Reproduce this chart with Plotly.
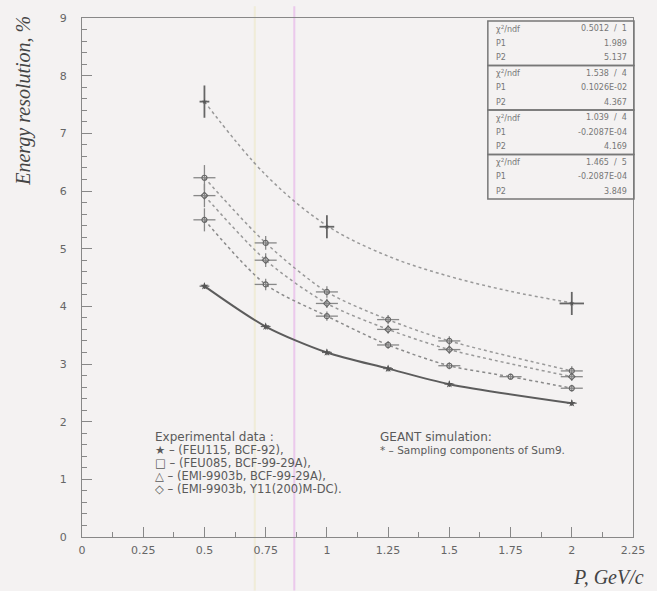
import plotly.graph_objects as go

# ---------------- data ----------------
x_geant = [0.5, 1.0, 2.0]
y_geant = [7.55, 5.38, 4.05]
ey_geant = [0.28, 0.2, 0.2]
ex_geant = [0.02, 0.03, 0.05]
# top smooth fit curve
x_geant_curve = [0.5, 0.75, 1.0, 1.25, 1.5, 1.75, 2.0]
y_geant_curve = [7.55, 6.28, 5.4, 4.87, 4.52, 4.26, 4.06]

x_star = [0.5, 0.75, 1.0, 1.25, 1.5, 2.0]
y_star = [4.35, 3.65, 3.2, 2.92, 2.65, 2.32]

x_sq = [0.5, 0.75, 1.0, 1.25, 1.5, 2.0]
y_sq = [6.23, 5.1, 4.25, 3.77, 3.4, 2.88]
ey_sq = [0.22, 0.12, 0.1, 0.08, 0.08, 0.08]

x_tri = [0.5, 0.75, 1.0, 1.25, 1.5, 2.0]
y_tri = [5.92, 4.8, 4.05, 3.6, 3.25, 2.78]
ey_tri = [0.2, 0.12, 0.08, 0.07, 0.07, 0.07]

x_dia = [0.5, 0.75, 1.0, 1.25, 1.5, 1.75, 2.0]
y_dia = [5.5, 4.38, 3.83, 3.33, 2.97, 2.78, 2.58]
ey_dia = [0.2, 0.1, 0.08, 0.07, 0.06, 0.05, 0.06]

x_ticks = [0, 0.25, 0.5, 0.75, 1, 1.25, 1.5, 1.75, 2, 2.25]
x_ticktext = ["0", "0.25", "0.5", "0.75", "1", "1.25", "1.5", "1.75", "2", "2.25"]
y_ticks = [0, 1, 2, 3, 4, 5, 6, 7, 8, 9]

fit_chi = ["0.5012  /  1", "1.538  /  4", "1.039  /  4", "1.465  /  5"]
fit_p1 = ["1.989", "0.1026E-02", "-0.2087E-04", "-0.2087E-04"]
fit_p2 = ["5.137", "4.367", "4.169", "3.849"]

legend_lines = ["Experimental data :",
                "★ – (FEU115, BCF-92),",
                "□ – (FEU085, BCF-99-29A),",
                "△ – (EMI-9903b, BCF-99-29A),",
                "◇ – (EMI-9903b, Y11(200)M-DC)."]
geant_lines = ["GEANT simulation:", "* – Sampling components of Sum9."]

# ---------------- geometry ----------------
W, H = 657, 591
L, R, T, B = 82, 17, 12, 54
PW, PH = W - L - R, H - T - B
BG = "#f4f2f2"
INK = "#5a5a5a"


def px(xp):
    return (xp - L) / PW


def py(yp):
    return (H - B - yp) / PH


fig = go.Figure()

# fit curves
fig.add_trace(go.Scatter(x=x_geant_curve, y=y_geant_curve, mode="lines",
                         line=dict(color="#999", width=1.5, dash="dot", shape="spline", smoothing=1),
                         showlegend=False, hoverinfo="skip"))
for xs, ys, dash, col, wd in [(x_sq, y_sq, "dot", "#999", 1.5),
                              (x_tri, y_tri, "dot", "#999", 1.5),
                              (x_dia, y_dia, "dot", "#8a8a8a", 1.5),
                              (x_star, y_star, "solid", "#5c5c5c", 2)]:
    fig.add_trace(go.Scatter(x=xs, y=ys, mode="lines",
                             line=dict(color=col, width=wd, dash=dash, shape="spline", smoothing=0.8),
                             showlegend=False, hoverinfo="skip"))

# data points
fig.add_trace(go.Scatter(x=x_geant, y=y_geant, mode="markers",
                         marker=dict(symbol="star", size=4, color="#555"),
                         error_y=dict(type="data", array=ey_geant, color="#666", thickness=1.8, width=0),
                         error_x=dict(type="data", array=ex_geant, color="#666", thickness=1.8, width=0),
                         showlegend=False))
fig.add_trace(go.Scatter(x=x_star, y=y_star, mode="markers",
                         marker=dict(symbol="star", size=6, color="#555"),
                         error_y=dict(type="constant", value=0.05, color="#666", thickness=1.2, width=0),
                         error_x=dict(type="constant", value=0.02, color="#666", thickness=1.2, width=0),
                         showlegend=False))
for xs, ys, eys, sym in [(x_sq, y_sq, ey_sq, "circle-open"),
                         (x_tri, y_tri, ey_tri, "diamond-open"),
                         (x_dia, y_dia, ey_dia, "circle-open")]:
    fig.add_trace(go.Scatter(x=xs, y=ys, mode="markers",
                             marker=dict(symbol=sym, size=5, color="#666", line=dict(width=1.2, color="#666")),
                             error_y=dict(type="data", array=eys, color="#888", thickness=1.3, width=0),
                             error_x=dict(type="constant", value=0.045, color="#888", thickness=1.3, width=0),
                             showlegend=False))

ann = []
shapes = []

# scan artifacts (faint vertical lines)
shapes.append(dict(type="line", xref="paper", yref="paper", x0=px(297), x1=px(297),
                   y0=py(H), y1=py(0), line=dict(color="rgba(225,160,230,0.5)", width=2), layer="below"))
shapes.append(dict(type="line", xref="paper", yref="paper", x0=px(257), x1=px(257),
                   y0=py(H), y1=py(0), line=dict(color="rgba(235,230,190,0.5)", width=2), layer="below"))

# stats boxes
bx0, bx1 = 493, 641
btop, bh = 15, 45
for i in range(4):
    t = btop + i * bh
    shapes.append(dict(type="rect", xref="paper", yref="paper",
                       x0=px(bx0), x1=px(bx1), y0=py(t + bh), y1=py(t),
                       line=dict(color="#777", width=1.5), fillcolor="rgba(0,0,0,0)"))
    rows = [("χ<sup>2</sup>/ndf", fit_chi[i]), ("P1", fit_p1[i]), ("P2", fit_p2[i])]
    for j, (lab, val) in enumerate(rows):
        yc = t + 8 + j * 14.5
        ann.append(dict(xref="paper", yref="paper", x=px(bx0 + 6), y=py(yc), text=lab,
                        showarrow=False, xanchor="left", yanchor="middle",
                        font=dict(family="DejaVu Sans", size=8, color="#777")))
        ann.append(dict(xref="paper", yref="paper", x=px(bx1 - 5), y=py(yc), text=val,
                        showarrow=False, xanchor="right", yanchor="middle",
                        font=dict(family="DejaVu Sans", size=8, color="#777")))

# legend text blocks
for k, line in enumerate(legend_lines):
    ann.append(dict(xref="paper", yref="paper", x=px(154), y=py(436 + k * 13), text=line,
                    showarrow=False, xanchor="left", yanchor="middle",
                    font=dict(family="DejaVu Sans", size=12 if k == 0 else 11.5, color=INK)))
for k, line in enumerate(geant_lines):
    ann.append(dict(xref="paper", yref="paper", x=px(382), y=py(436 + k * 13), text=line,
                    showarrow=False, xanchor="left", yanchor="middle",
                    font=dict(family="DejaVu Sans", size=12 if k == 0 else 10.5, color=INK)))

# axis titles
ann.append(dict(xref="paper", yref="paper", x=px(22), y=py(8), text="<i>Energy resolution, %</i>",
                textangle=-90, showarrow=False, xanchor="center", yanchor="top",
                font=dict(family="Liberation Serif", size=20, color="#444")))
ann.append(dict(xref="paper", yref="paper", x=px(653), y=py(577), text="<i>P, GeV/c</i>",
                showarrow=False, xanchor="right", yanchor="middle",
                font=dict(family="Liberation Serif", size=20, color="#444")))

fig.update_layout(
    width=W, height=H,
    margin=dict(l=L, r=R, t=T, b=B),
    paper_bgcolor=BG, plot_bgcolor=BG,
    showlegend=False,
    annotations=ann, shapes=shapes,
    xaxis=dict(range=[0, 2.25], tickvals=x_ticks, ticktext=x_ticktext,
               ticks="inside", ticklen=10, tickcolor="#888", tickwidth=1,
               minor=dict(dtick=0.125, ticks="inside", ticklen=5, tickcolor="#888"),
               showgrid=False, zeroline=False, showline=True, mirror=True,
               linecolor="#888", linewidth=1.2, ticklabelstandoff=3,
               tickfont=dict(family="DejaVu Sans", size=11, color="#666")),
    yaxis=dict(range=[0, 9], tickvals=y_ticks,
               ticks="inside", ticklen=10, tickcolor="#888", tickwidth=1,
               minor=dict(dtick=0.2, ticks="inside", ticklen=5, tickcolor="#888"),
               showgrid=False, zeroline=False, showline=True, mirror=True,
               linecolor="#888", linewidth=1.2, ticklabelstandoff=12,
               tickfont=dict(family="DejaVu Sans", size=11, color="#666")),
)

fig.write_html("out.html")
